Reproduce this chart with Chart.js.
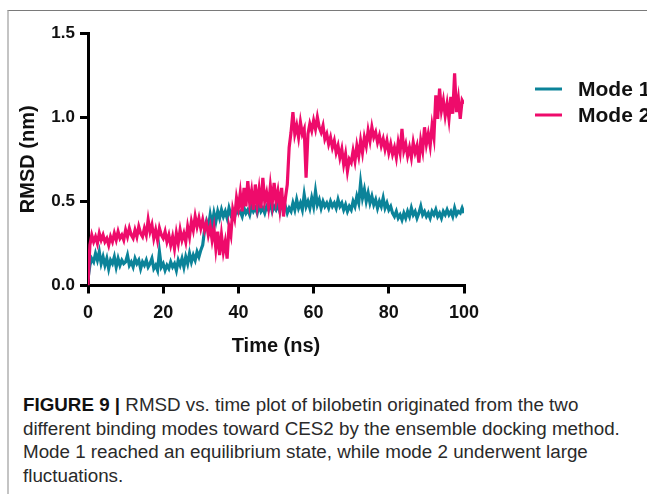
<!DOCTYPE html>
<html>
<head>
<meta charset="utf-8">
<script src="https://cdn.jsdelivr.net/npm/chart.js@4.4.0/dist/chart.umd.min.js"></script>
<style>
  html, body { margin: 0; padding: 0; background: #fff; overflow: hidden; }
  body { width: 647px; height: 494px; position: relative; font-family: "Liberation Sans", Arial, sans-serif; }
  #frame { position: absolute; left: 7px; top: 10px; width: 700px; height: 500px;
           border-top: 1px solid #7a7a7a; border-left: 2px solid #c4c4c4; }
  #wrap { position: absolute; left: 0; top: 0; width: 647px; height: 361px; }
  #caption { position: absolute; left: 23px; top: 393px; width: 630px; white-space: nowrap;
             font-size: 18.8px; line-height: 23.7px; color: #2a2a2a; }
  #caption b { color: #111; }
</style>
</head>
<body>
<div id="frame"></div>
<div id="wrap"><canvas id="rmsdChart" width="647" height="361"></canvas></div>
<div id="caption"><b>FIGURE 9 |</b> RMSD vs. time plot of bilobetin originated from the two<br>different binding modes toward CES2 by the ensemble docking method.<br>Mode 1 reached an equilibrium state, while mode 2 underwent large<br>fluctuations.</div>
<script>
// sampled every 0.5 ns, 0 - 100 ns
const timeStep = 0.5;
const seriesNames = ['Mode 1', 'Mode 2'];
const xTicks = [0, 20, 40, 60, 80, 100];
const yTicks = [0, 0.5, 1.0, 1.5];

const mode1 = [
    0.04, 0.12, 0.16, 0.14, 0.19, 0.15, 0.20, 0.13, 0.17, 0.12, 0.16,
    0.10, 0.15, 0.13, 0.17, 0.11, 0.16, 0.12, 0.15, 0.13, 0.14,
    0.18, 0.12, 0.14, 0.11, 0.16, 0.13, 0.15, 0.10, 0.14, 0.12,
    0.15, 0.11, 0.13, 0.16, 0.10, 0.12, 0.09, 0.20, 0.11, 0.13,
    0.09, 0.12, 0.10, 0.14, 0.11, 0.13, 0.09, 0.15, 0.12, 0.16,
    0.11, 0.17, 0.13, 0.19, 0.14, 0.18, 0.15, 0.20, 0.17, 0.21,
    0.24, 0.33, 0.38, 0.34, 0.42, 0.36, 0.43, 0.38, 0.44, 0.40,
    0.45, 0.41, 0.44, 0.40, 0.46, 0.42, 0.44, 0.41, 0.45, 0.43,
    0.44, 0.41, 0.46, 0.43, 0.45, 0.42, 0.47, 0.44, 0.46, 0.43,
    0.48, 0.44, 0.46, 0.43, 0.47, 0.45, 0.49, 0.44, 0.47, 0.45,
    0.48, 0.44, 0.50, 0.45, 0.47, 0.43, 0.46, 0.44, 0.49, 0.45,
    0.51, 0.46, 0.49, 0.45, 0.54, 0.47, 0.50, 0.46, 0.52, 0.47,
    0.56, 0.48, 0.51, 0.46, 0.50, 0.47, 0.49, 0.46, 0.50, 0.47,
    0.49, 0.46, 0.51, 0.47, 0.49, 0.45, 0.48, 0.44, 0.47, 0.45,
    0.50, 0.47, 0.53, 0.49, 0.61, 0.52, 0.57, 0.50, 0.55, 0.49,
    0.53, 0.48, 0.51, 0.46, 0.50, 0.47, 0.52, 0.46, 0.49, 0.45,
    0.47, 0.43, 0.41, 0.44, 0.40, 0.42, 0.39, 0.43, 0.40, 0.44,
    0.41, 0.46, 0.42, 0.44, 0.40, 0.43, 0.47, 0.42, 0.44, 0.41,
    0.43, 0.40, 0.44, 0.42, 0.45, 0.41, 0.43, 0.40, 0.44, 0.42,
    0.45, 0.42, 0.44, 0.41, 0.46, 0.42, 0.44, 0.43, 0.46, 0.43
];

const mode2 = [
    0.00, 0.24, 0.30, 0.26, 0.29, 0.25, 0.31, 0.27, 0.30, 0.26, 0.28,
    0.24, 0.29, 0.26, 0.31, 0.27, 0.32, 0.28, 0.30, 0.27, 0.33,
    0.29, 0.34, 0.30, 0.28, 0.33, 0.29, 0.35, 0.31, 0.29, 0.34,
    0.30, 0.39, 0.32, 0.36, 0.28, 0.33, 0.27, 0.34, 0.30, 0.28,
    0.32, 0.26, 0.30, 0.24, 0.29, 0.22, 0.31, 0.25, 0.33, 0.27,
    0.31, 0.26, 0.35, 0.29, 0.38, 0.33, 0.41, 0.35, 0.40, 0.34,
    0.39, 0.33, 0.37, 0.30, 0.35, 0.27, 0.34, 0.22, 0.32, 0.18,
    0.30, 0.20, 0.26, 0.16, 0.35, 0.30, 0.45, 0.40, 0.52, 0.46,
    0.55, 0.44, 0.58, 0.47, 0.62, 0.49, 0.56, 0.45, 0.60, 0.48,
    0.57, 0.46, 0.64, 0.50, 0.55, 0.47, 0.59, 0.49, 0.61, 0.50,
    0.56, 0.46, 0.58, 0.41, 0.52, 0.60, 0.82, 0.91, 1.03, 0.90,
    0.95, 0.88, 0.97, 0.90, 0.93, 0.64, 0.90, 0.96, 0.92, 0.98,
    0.93, 1.00, 0.94, 0.91, 0.95, 0.87, 0.90, 0.84, 0.88, 0.82,
    0.86, 0.79, 0.83, 0.76, 0.81, 0.72, 0.78, 0.68, 0.75, 0.73,
    0.80, 0.74, 0.83, 0.77, 0.86, 0.79, 0.88, 0.83, 0.92, 0.86,
    0.94, 0.88, 0.91, 0.85, 0.89, 0.83, 0.87, 0.81, 0.86, 0.79,
    0.84, 0.78, 0.82, 0.76, 0.85, 0.79, 0.93, 0.80, 0.84, 0.77,
    0.82, 0.76, 0.85, 0.79, 0.83, 0.73, 0.86, 0.80, 0.94, 0.84,
    0.90, 0.83, 0.95, 0.88, 1.13, 0.99, 1.17, 1.04, 1.10, 1.01,
    1.08, 0.99, 1.12, 1.02, 1.26, 1.03, 1.11, 0.99, 1.10, 1.08
];

const colors = ['#0b8399', '#ee0b6b'];

function toPoints(values) {
    return values.map((v, i) => ({ x: i * timeStep, y: v }));
}

// legend drawn beside the plot, like the original figure
const sideLegend = {
    id: 'sideLegend',
    afterDraw(chart) {
        const ctx = chart.ctx;
        ctx.save();
        ctx.font = 'bold 21px "Liberation Sans", Arial, sans-serif';
        ctx.textBaseline = 'middle';
        ctx.fillStyle = '#111';
        seriesNames.forEach((name, i) => {
            const y = 89 + i * 26;
            ctx.strokeStyle = colors[i];
            ctx.lineWidth = 3;
            ctx.beginPath();
            ctx.moveTo(535, y);
            ctx.lineTo(562, y);
            ctx.stroke();
            ctx.fillText(name, 578, y + 1);
        });
        ctx.restore();
    }
};

const axisFont = { family: '"Liberation Sans", Arial, sans-serif', weight: 'bold', size: 17 };
const titleFont = { family: '"Liberation Sans", Arial, sans-serif', weight: 'bold', size: 20 };

const ctx = document.getElementById('rmsdChart').getContext('2d');
new Chart(ctx, {
    type: 'line',
    data: {
        datasets: [{
            label: seriesNames[0],
            data: toPoints(mode1),
            borderColor: colors[0],
            borderWidth: 3.2,
            pointRadius: 0,
            tension: 0,
            order: 2
        }, {
            label: seriesNames[1],
            data: toPoints(mode2),
            borderColor: colors[1],
            borderWidth: 3.2,
            pointRadius: 0,
            tension: 0,
            order: 1
        }]
    },
    options: {
        responsive: false,
        animation: false,
        layout: { padding: { top: 33, right: 183, left: 0, bottom: 0 } },
        plugins: {
            legend: { display: false },
            tooltip: { enabled: false }
        },
        scales: {
            x: {
                type: 'linear',
                min: 0,
                max: 100,
                afterBuildTicks: scale => { scale.ticks = xTicks.map(v => ({ value: v })); },
                afterFit: scale => { scale.height = 75.5; },
                border: { color: '#000', width: 3 },
                grid: { drawOnChartArea: false, color: '#000', lineWidth: 3, tickLength: 8 },
                ticks: { color: '#111', font: { ...axisFont, size: 18 }, padding: 9, maxRotation: 0 },
                title: { display: true, text: 'Time (ns)', color: '#111', font: titleFont, padding: { top: 4, bottom: 3 } }
            },
            y: {
                min: 0,
                max: 1.5,
                afterBuildTicks: scale => { scale.ticks = yTicks.map(v => ({ value: v })); },
                afterFit: scale => { scale.width = 88; },
                border: { color: '#000', width: 3 },
                grid: { drawOnChartArea: false, color: '#000', lineWidth: 3, tickLength: 8 },
                ticks: { color: '#111', font: axisFont, padding: 5, callback: v => v.toFixed(1) },
                title: { display: true, text: 'RMSD (nm)', color: '#111', font: titleFont, padding: { top: 16, bottom: 0 } }
            }
        }
    },
    plugins: [sideLegend]
});
</script>
</body>
</html>
